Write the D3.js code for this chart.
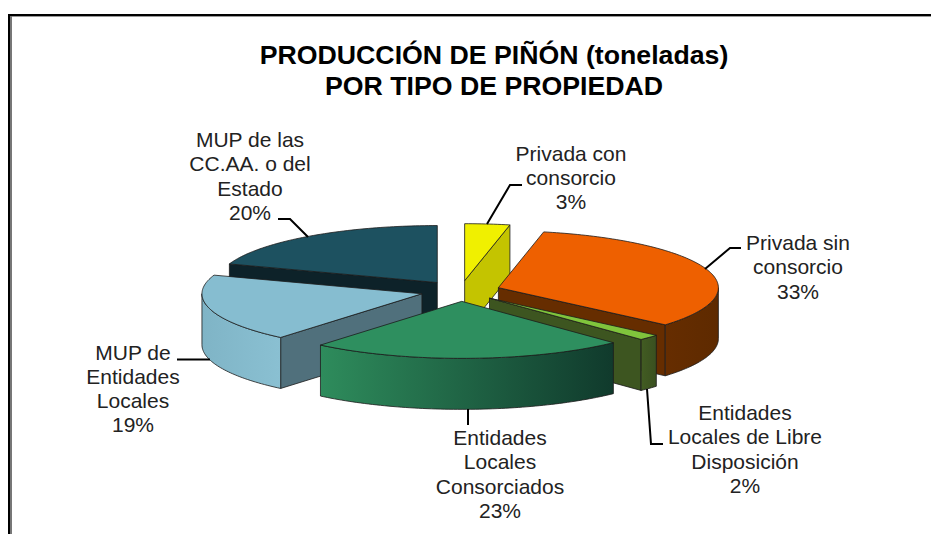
<!DOCTYPE html>
<html lang="es">
<head>
<meta charset="utf-8">
<title>Producción de piñón</title>
<script src="https://cdnjs.cloudflare.com/ajax/libs/d3/7.8.5/d3.min.js"></script>
<style>
html,body{margin:0;padding:0;background:#fff;overflow:hidden}
svg{display:block}
text{font-family:"Liberation Sans",Arial,sans-serif}
</style>
</head>
<body>
<div id="chart"></div>
<script>
// ---- data ----
const categories = [
  "Privada con consorcio",
  "Privada sin consorcio",
  "Entidades Locales de Libre Disposición",
  "Entidades Locales Consorciados",
  "MUP de Entidades Locales",
  "MUP de las CC.AA. o del Estado"
];
const values = [3.3, 33, 1.6, 23.2, 19.2, 19.7];
const titleLines = ["PRODUCCIÓN DE PIÑÓN (toneladas)", "POR TIPO DE PROPIEDAD"];
const labelLines = [
  ["Privada con", "consorcio"],
  ["Privada sin", "consorcio"],
  ["Entidades", "Locales de Libre", "Disposición"],
  ["Entidades", "Locales", "Consorciados"],
  ["MUP de", "Entidades", "Locales"],
  ["MUP de las", "CC.AA. o del", "Estado"]
];

// ---- styles and layout ----
const W = 931, H = 534;
const topColors  = ["#f0f000", "#ee6000", "#80c43c", "#2e8f5f", "#86bdd0", "#1d5160"];
const cutColors  = ["#c4c400", "#662d00", "#3d5520", "#1c5a3e", "#50707c", "#0d2229"];
const wallStops  = [
  ["#c4c400", "#c4c400"],
  ["#662d00", "#5e2a00"],
  ["#425c22", "#3a5020"],
  ["#2e8c5c", "#103a2c"],
  ["#7fb4c6", "#8ac0d2"],
  ["#0d2229", "#0d2229"]
];
const paintOrder = [5, 0, 1, 4, 2, 3];
const labelAnchor = [[571, 160.5], [798, 250], [745, 420], [500, 445], [133, 359.5], [250, 147]];
const leaders = [
  [[487, 224], [510, 185], [522, 185]],
  [[705, 269], [730, 248], [741, 248]],
  [[647, 389], [651, 444], [663, 444]],
  [[468, 409], [468, 425]],
  [[177, 359.5], [210, 359.5]],
  [[278, 219], [290, 219], [308, 237]]
];
const cx = 460.5, cy = 291, rx = 220, ry = 57, depth = 51, explode = 40;

const svg = d3.select("#chart").append("svg").attr("width", W).attr("height", H);
svg.append("rect").attr("width", W).attr("height", H).attr("fill", "#fff");

// frame: only top and left sides are visible
svg.append("rect").attr("x", 8).attr("y", 14).attr("width", W - 8).attr("height", 2).attr("fill", "#000");
svg.append("rect").attr("x", 10).attr("y", 16).attr("width", W - 10).attr("height", 1).attr("fill", "#999");
svg.append("rect").attr("x", 8).attr("y", 14).attr("width", 2).attr("height", H - 14).attr("fill", "#000");
svg.append("rect").attr("x", 10).attr("y", 16).attr("width", 2).attr("height", H - 16).attr("fill", "#777");

const defs = svg.append("defs");
wallStops.forEach((s, i) => {
  const g = defs.append("linearGradient").attr("id", "wall" + i)
    .attr("x1", 0).attr("x2", 1).attr("y1", 0).attr("y2", 0);
  g.append("stop").attr("offset", 0).attr("stop-color", s[0]);
  g.append("stop").attr("offset", 1).attr("stop-color", s[1]);
});

const arcs = d3.pie().sort(null).startAngle(0).endAngle(2 * Math.PI)(values);
const line = d3.line();
const closed = d3.line().curve(d3.curveLinearClosed);
const HALF = Math.PI / 2;

const slices = svg.append("g").attr("stroke", "#1c1c1c").attr("stroke-width", 0.8).attr("stroke-linejoin", "round");

paintOrder.forEach(i => {
  const d = arcs[i];
  const mid = (d.startAngle + d.endAngle) / 2;
  const ox = cx + explode * Math.sin(mid);
  const oy = cy - explode * (ry / rx) * Math.cos(mid);
  const P = (a, z = 0) => [ox + rx * Math.sin(a), oy - ry * Math.cos(a) + z];
  const rim = (a0, a1, z = 0) => {
    const n = Math.max(2, Math.ceil((a1 - a0) / 0.02));
    return d3.range(n + 1).map(k => P(a0 + (a1 - a0) * k / n, z));
  };
  const g = slices.append("g").attr("class", "slice").attr("data-name", categories[i]);

  // cut faces looking towards the viewer
  [[d.startAngle, Math.sin(d.startAngle) < -1e-6], [d.endAngle, Math.sin(d.endAngle) > 1e-6]]
    .filter(c => c[1])
    .forEach(c => {
      const e = P(c[0]);
      g.append("path").attr("fill", cutColors[i])
        .attr("d", closed([[ox, oy], e, [e[0], e[1] + depth], [ox, oy + depth]]));
    });

  // outer wall: only the part on the near half of the pie
  const w0 = Math.max(d.startAngle, HALF), w1 = Math.min(d.endAngle, 3 * HALF);
  if (w1 > w0) {
    g.append("path").attr("fill", `url(#wall${i})`)
      .attr("d", closed(rim(w0, w1).concat(rim(w0, w1, depth).reverse())));
  }

  // top face
  g.append("path").attr("fill", topColors[i])
    .attr("d", closed([[ox, oy]].concat(rim(d.startAngle, d.endAngle))));
});

// leader lines
svg.append("g").selectAll("path").data(leaders).join("path")
  .attr("d", d => line(d)).attr("fill", "none").attr("stroke", "#000").attr("stroke-width", 2);

// title
svg.append("g").selectAll("text").data(titleLines).join("text")
  .attr("x", 494).attr("y", (d, i) => 64 + i * 31)
  .attr("text-anchor", "middle").attr("font-weight", "bold").attr("font-size", 26.7).attr("fill", "#000")
  .text(d => d);

// labels
const total = d3.sum(values);
const lab = svg.append("g").attr("font-size", 21).attr("fill", "#222").attr("text-anchor", "middle");
categories.forEach((c, i) => {
  const lines = labelLines[i].concat(d3.format(".0%")(values[i] / total));
  lab.append("text").attr("data-name", c).selectAll("tspan").data(lines).join("tspan")
    .attr("x", labelAnchor[i][0])
    .attr("y", (d, k) => labelAnchor[i][1] + k * 24.3)
    .text(d => d);
});
</script>
</body>
</html>
